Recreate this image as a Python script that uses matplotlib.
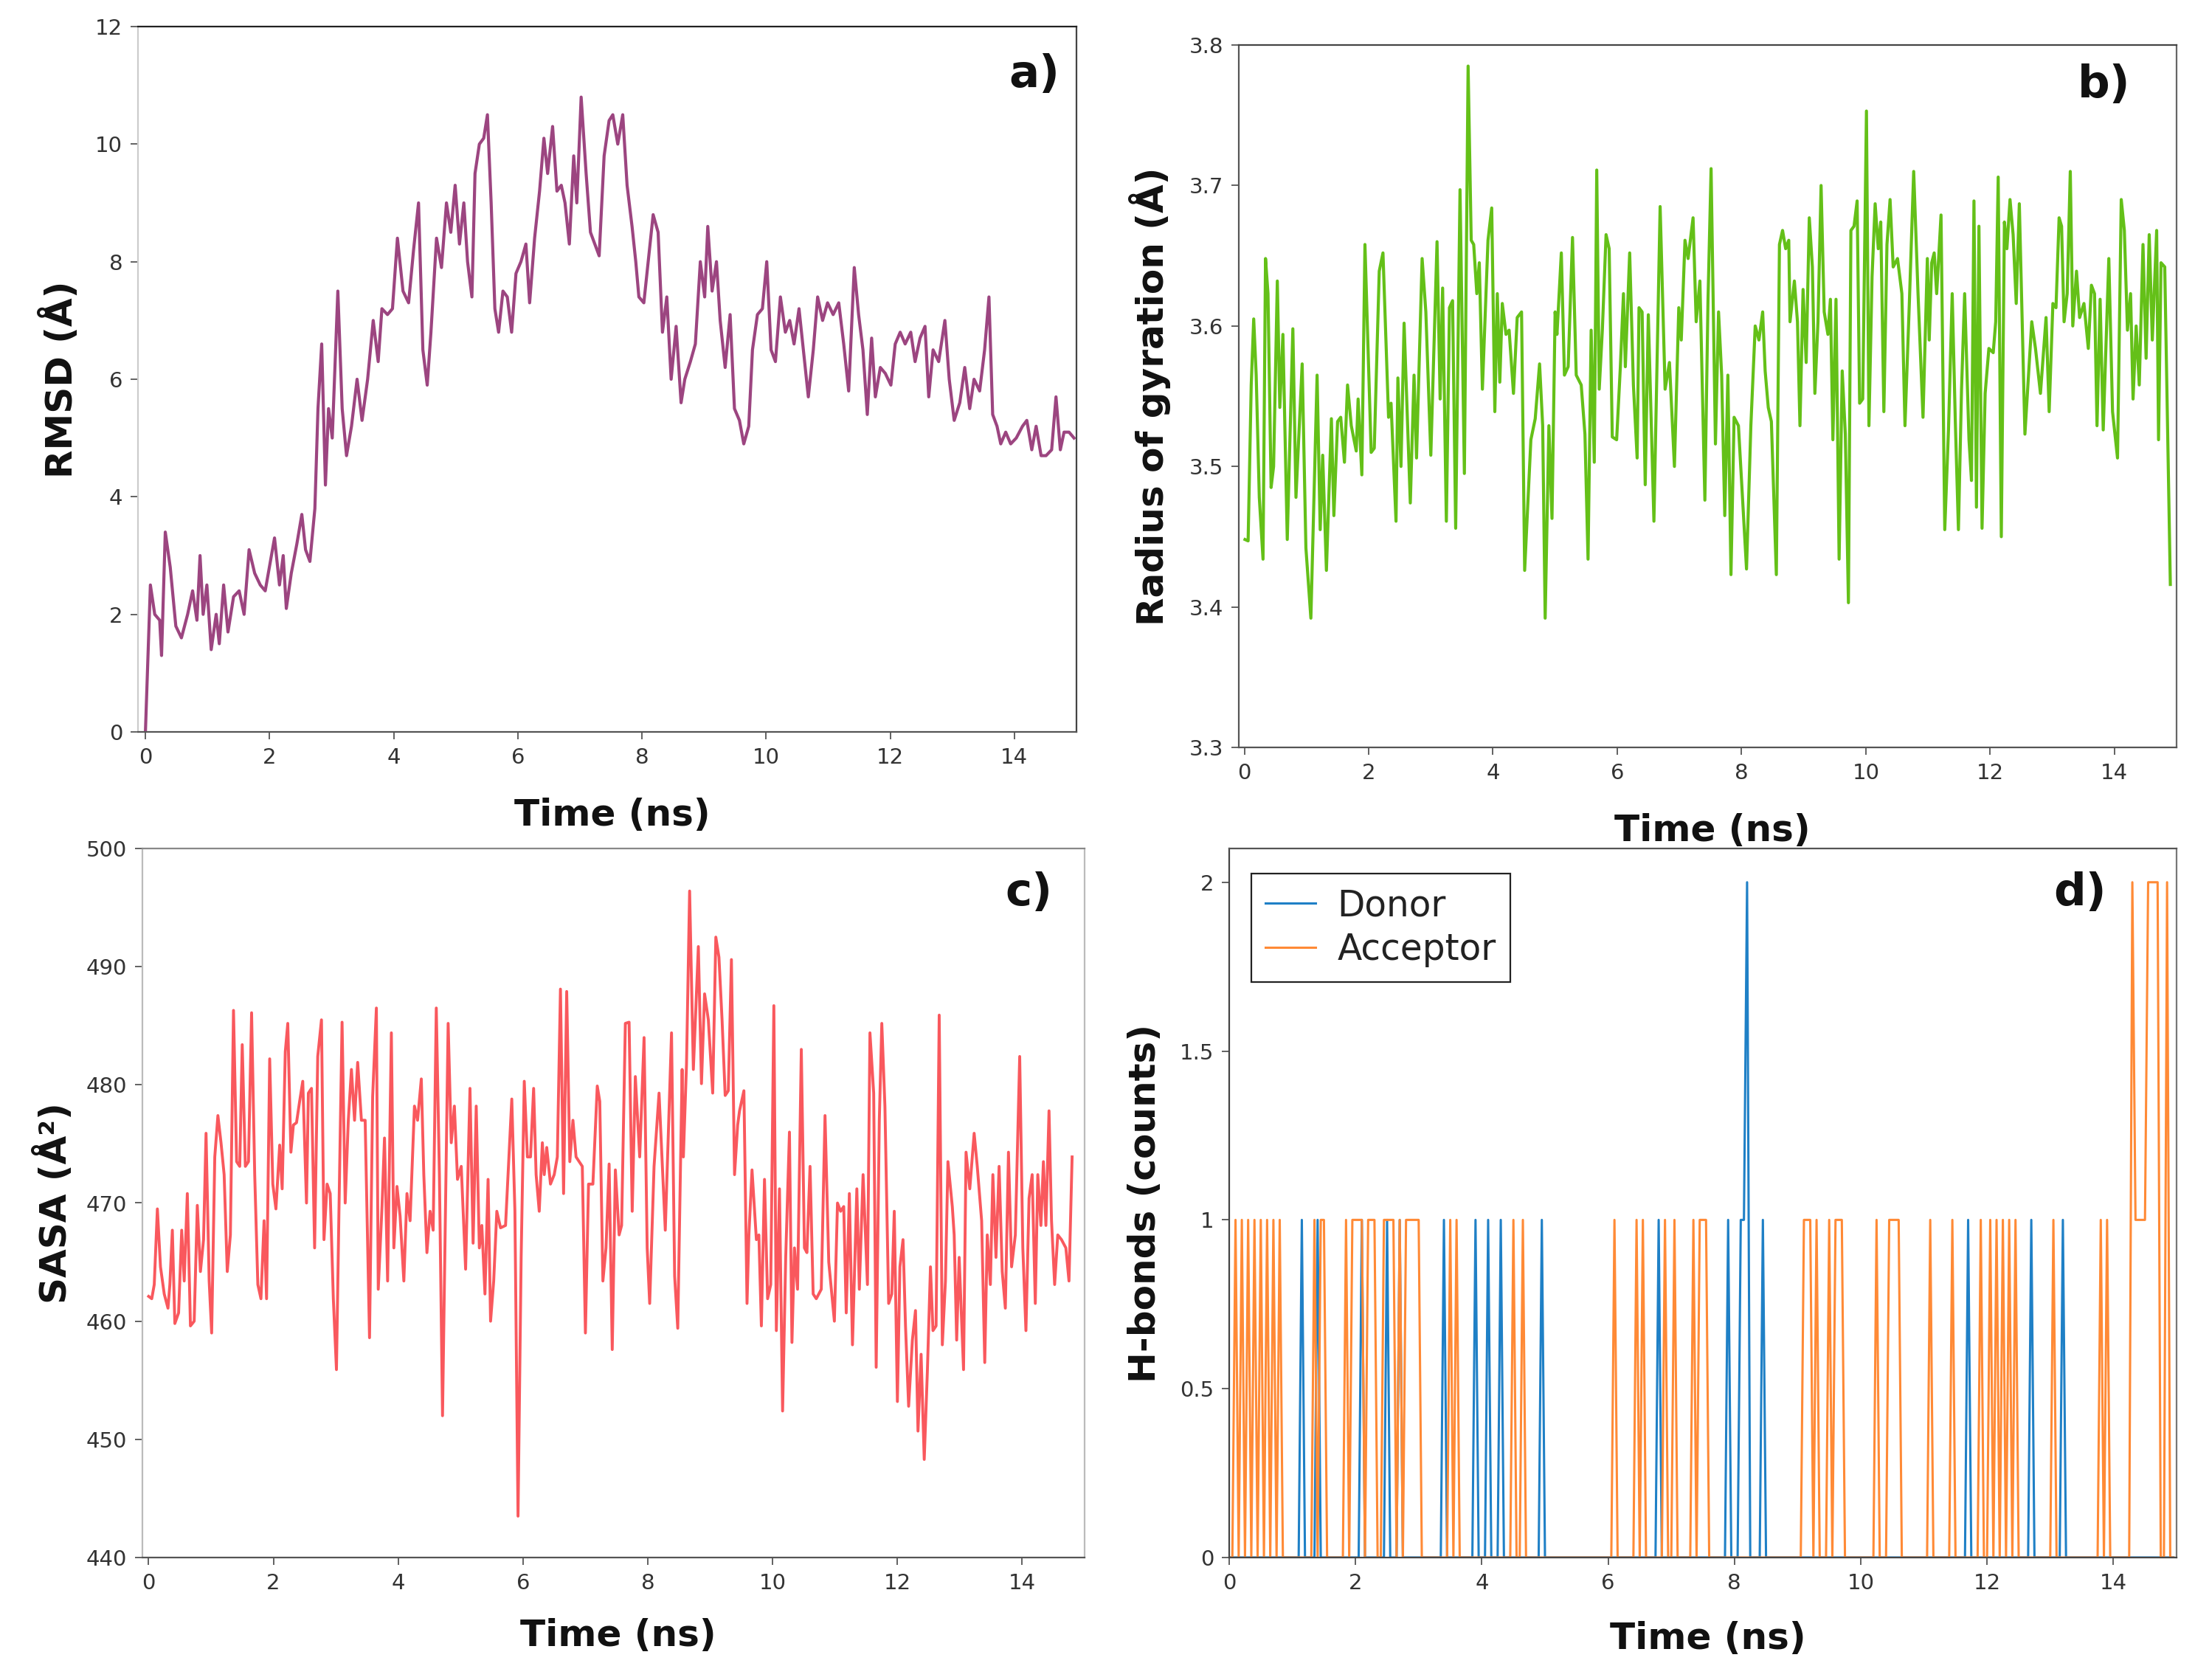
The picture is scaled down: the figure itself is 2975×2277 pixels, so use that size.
import numpy as np
import matplotlib
matplotlib.use("Agg")
import matplotlib.pyplot as plt

# ---- data ----
rmsd_time = [0.00, 0.08, 0.15, 0.23, 0.26, 0.32, 0.40, 0.49, 0.58, 0.68, 0.76, 0.83, 0.88, 0.93, 0.99, 1.06, 1.14, 1.19, 1.26, 1.33,
             1.42, 1.51, 1.59, 1.67, 1.76, 1.85, 1.93, 2.08, 2.16, 2.22, 2.27, 2.35, 2.44, 2.52, 2.58, 2.65, 2.73, 2.78, 2.84, 2.90,
             2.95, 3.01, 3.10, 3.17, 3.24, 3.32, 3.41, 3.49, 3.58, 3.67, 3.75, 3.81, 3.90, 3.98, 4.06, 4.15, 4.24, 4.32, 4.40, 4.47,
             4.54, 4.60, 4.69, 4.77, 4.85, 4.92, 4.99, 5.06, 5.13, 5.19, 5.26, 5.31, 5.38, 5.45, 5.51, 5.57, 5.63, 5.69, 5.76, 5.83,
             5.90, 5.97, 6.05, 6.13, 6.19, 6.27, 6.35, 6.42, 6.48, 6.56, 6.63, 6.70, 6.76, 6.83, 6.90, 6.95, 7.02, 7.10, 7.17, 7.24,
             7.31, 7.39, 7.47, 7.53, 7.61, 7.69, 7.76, 7.84, 7.90, 7.95, 8.03, 8.10, 8.18, 8.26, 8.33, 8.40, 8.47, 8.55, 8.63, 8.69,
             8.78, 8.86, 8.94, 9.01, 9.06, 9.13, 9.20, 9.26, 9.34, 9.42, 9.49, 9.57, 9.64, 9.72, 9.78, 9.86, 9.94, 10.01, 10.08, 10.15,
             10.23, 10.31, 10.38, 10.45, 10.53, 10.60, 10.68, 10.76, 10.83, 10.91, 10.99, 11.08, 11.17, 11.25, 11.33, 11.42, 11.49, 11.56, 11.63, 11.70,
             11.76, 11.84, 11.92, 12.01, 12.08, 12.16, 12.24, 12.33, 12.40, 12.48, 12.56, 12.62, 12.69, 12.78, 12.88, 12.95, 13.03, 13.12, 13.20, 13.28,
             13.35, 13.44, 13.52, 13.59, 13.65, 13.72, 13.78, 13.86, 13.94, 14.03, 14.13, 14.20, 14.28, 14.35, 14.43, 14.51, 14.60, 14.67, 14.74, 14.80,
             14.88, 14.96]
rmsd = [0.0, 2.5, 2.0, 1.9, 1.3, 3.4, 2.8, 1.8, 1.6, 2.0, 2.4, 1.9, 3.0, 2.0, 2.5, 1.4, 2.0, 1.5, 2.5, 1.7,
        2.3, 2.4, 2.0, 3.1, 2.7, 2.5, 2.4, 3.3, 2.5, 3.0, 2.1, 2.7, 3.2, 3.7, 3.1, 2.9, 3.8, 5.5, 6.6, 4.2,
        5.5, 5.0, 7.5, 5.5, 4.7, 5.2, 6.0, 5.3, 6.0, 7.0, 6.3, 7.2, 7.1, 7.2, 8.4, 7.5, 7.3, 8.2, 9.0, 6.5,
        5.9, 6.8, 8.4, 7.9, 9.0, 8.5, 9.3, 8.3, 9.0, 8.0, 7.4, 9.5, 10.0, 10.1, 10.5, 9.0, 7.2, 6.8, 7.5, 7.4,
        6.8, 7.8, 8.0, 8.3, 7.3, 8.4, 9.2, 10.1, 9.5, 10.3, 9.2, 9.3, 9.0, 8.3, 9.8, 9.0, 10.8, 9.5, 8.5, 8.3,
        8.1, 9.8, 10.4, 10.5, 10.0, 10.5, 9.3, 8.6, 8.0, 7.4, 7.3, 8.0, 8.8, 8.5, 6.8, 7.4, 6.0, 6.9, 5.6, 6.0,
        6.3, 6.6, 8.0, 7.4, 8.6, 7.5, 8.0, 7.0, 6.2, 7.1, 5.5, 5.3, 4.9, 5.2, 6.5, 7.1, 7.2, 8.0, 6.5, 6.3,
        7.4, 6.8, 7.0, 6.6, 7.2, 6.5, 5.7, 6.5, 7.4, 7.0, 7.3, 7.1, 7.3, 6.6, 5.8, 7.9, 7.1, 6.5, 5.4, 6.7,
        5.7, 6.2, 6.1, 5.9, 6.6, 6.8, 6.6, 6.8, 6.3, 6.7, 6.9, 5.7, 6.5, 6.3, 7.0, 6.0, 5.3, 5.6, 6.2, 5.5,
        6.0, 5.8, 6.5, 7.4, 5.4, 5.2, 4.9, 5.1, 4.9, 5.0, 5.2, 5.3, 4.8, 5.2, 4.7, 4.7, 4.8, 5.7, 4.8, 5.1,
        5.1, 5.0]

rg_time = [0.01, 0.06, 0.11, 0.15, 0.19, 0.24, 0.30, 0.34, 0.38, 0.43, 0.47, 0.53, 0.57, 0.62, 0.69, 0.78, 0.83, 0.93, 0.99, 1.07,
           1.17, 1.22, 1.26, 1.32, 1.40, 1.44, 1.50, 1.55, 1.61, 1.66, 1.72, 1.80, 1.83, 1.89, 1.94, 2.04, 2.09, 2.17, 2.23, 2.32,
           2.36, 2.44, 2.47, 2.52, 2.57, 2.67, 2.73, 2.77, 2.86, 2.92, 3.00, 3.10, 3.15, 3.19, 3.25, 3.30, 3.35, 3.40, 3.47, 3.54,
           3.60, 3.65, 3.69, 3.74, 3.78, 3.83, 3.92, 3.98, 4.03, 4.07, 4.11, 4.15, 4.21, 4.26, 4.33, 4.39, 4.46, 4.51, 4.61, 4.68,
           4.75, 4.80, 4.84, 4.90, 4.95, 5.00, 5.03, 5.10, 5.15, 5.21, 5.28, 5.34, 5.42, 5.48, 5.53, 5.58, 5.63, 5.67, 5.71, 5.76,
           5.82, 5.87, 5.92, 5.99, 6.05, 6.10, 6.13, 6.20, 6.26, 6.32, 6.35, 6.40, 6.45, 6.50, 6.59, 6.69, 6.77, 6.84, 6.92, 6.99,
           7.03, 7.09, 7.14, 7.22, 7.27, 7.33, 7.41, 7.46, 7.51, 7.58, 7.63, 7.68, 7.73, 7.78, 7.83, 7.88, 7.95, 8.08, 8.15, 8.22,
           8.28, 8.34, 8.38, 8.43, 8.48, 8.56, 8.61, 8.66, 8.71, 8.76, 8.78, 8.85, 8.90, 8.94, 8.99, 9.04, 9.09, 9.14, 9.18, 9.23,
           9.28, 9.33, 9.39, 9.43, 9.47, 9.52, 9.57, 9.62, 9.67, 9.72, 9.76, 9.81, 9.86, 9.90, 9.95, 10.01, 10.05, 10.10, 10.15, 10.20,
           10.24, 10.29, 10.34, 10.39, 10.44, 10.51, 10.58, 10.63, 10.70, 10.77, 10.84, 10.87, 10.92, 10.99, 11.02, 11.06, 11.10, 11.14, 11.21, 11.27,
           11.33, 11.39, 11.44, 11.49, 11.54, 11.59, 11.66, 11.70, 11.74, 11.78, 11.82, 11.87, 11.92, 11.98, 12.05, 12.09, 12.13, 12.18, 12.23, 12.27,
           12.32, 12.37, 12.42, 12.47, 12.56, 12.67, 12.73, 12.81, 12.90, 12.95, 13.01, 13.06, 13.11, 13.15, 13.19, 13.24, 13.29, 13.33, 13.39, 13.44,
           13.51, 13.58, 13.63, 13.68, 13.72, 13.77, 13.82, 13.91, 13.97, 14.05, 14.11, 14.16, 14.21, 14.26, 14.30, 14.35, 14.40, 14.46, 14.51, 14.56,
           14.61, 14.68, 14.71, 14.75, 14.81, 14.90]
rg = [3.448, 3.447, 3.558, 3.605, 3.565, 3.478, 3.434, 3.648, 3.623, 3.485, 3.500, 3.632, 3.542, 3.594, 3.448, 3.598, 3.478, 3.573, 3.442, 3.392,
      3.565, 3.455, 3.508, 3.426, 3.534, 3.465, 3.532, 3.535, 3.503, 3.558, 3.529, 3.511, 3.548, 3.494, 3.658, 3.510, 3.513, 3.639, 3.652, 3.535,
      3.545, 3.461, 3.563, 3.500, 3.602, 3.474, 3.565, 3.506, 3.648, 3.610, 3.508, 3.660, 3.548, 3.627, 3.461, 3.613, 3.618, 3.456, 3.697, 3.495,
      3.785, 3.661, 3.658, 3.623, 3.645, 3.555, 3.661, 3.684, 3.539, 3.623, 3.560, 3.616, 3.594, 3.597, 3.552, 3.606, 3.610, 3.426, 3.519, 3.534,
      3.573, 3.529, 3.392, 3.529, 3.463, 3.610, 3.594, 3.652, 3.565, 3.571, 3.663, 3.565, 3.558, 3.523, 3.434, 3.597, 3.503, 3.711, 3.555, 3.597,
      3.665, 3.655, 3.521, 3.519, 3.571, 3.623, 3.571, 3.652, 3.558, 3.506, 3.613, 3.610, 3.487, 3.608, 3.461, 3.685, 3.555, 3.574, 3.500, 3.613,
      3.590, 3.661, 3.648, 3.677, 3.603, 3.632, 3.476, 3.618, 3.712, 3.516, 3.610, 3.565, 3.465, 3.565, 3.423, 3.535, 3.529, 3.427, 3.529, 3.600,
      3.590, 3.610, 3.568, 3.542, 3.532, 3.423, 3.658, 3.668, 3.655, 3.661, 3.603, 3.632, 3.603, 3.529, 3.626, 3.574, 3.677, 3.642, 3.552, 3.603,
      3.700, 3.610, 3.594, 3.619, 3.519, 3.619, 3.434, 3.568, 3.523, 3.403, 3.668, 3.671, 3.689, 3.545, 3.548, 3.753, 3.529, 3.635, 3.687, 3.655,
      3.674, 3.539, 3.658, 3.690, 3.642, 3.648, 3.623, 3.529, 3.616, 3.710, 3.623, 3.590, 3.535, 3.648, 3.590, 3.645, 3.652, 3.623, 3.679, 3.455,
      3.526, 3.623, 3.532, 3.455, 3.555, 3.623, 3.519, 3.490, 3.689, 3.471, 3.671, 3.456, 3.552, 3.584, 3.581, 3.603, 3.706, 3.450, 3.674, 3.655,
      3.690, 3.665, 3.616, 3.687, 3.523, 3.603, 3.584, 3.552, 3.606, 3.539, 3.616, 3.613, 3.677, 3.671, 3.603, 3.623, 3.710, 3.600, 3.639, 3.606,
      3.616, 3.584, 3.629, 3.623, 3.529, 3.619, 3.526, 3.648, 3.539, 3.506, 3.690, 3.668, 3.597, 3.623, 3.548, 3.600, 3.558, 3.658, 3.577, 3.665,
      3.590, 3.668, 3.519, 3.645, 3.642, 3.416]

sasa_time = [0.00, 0.05, 0.09, 0.14, 0.19, 0.25, 0.31, 0.34, 0.38, 0.42, 0.48, 0.53, 0.57, 0.62, 0.67, 0.73, 0.78, 0.83, 0.88, 0.92,
             0.97, 1.01, 1.06, 1.11, 1.16, 1.21, 1.26, 1.31, 1.36, 1.41, 1.46, 1.50, 1.55, 1.60, 1.65, 1.70, 1.75, 1.80, 1.85, 1.89,
             1.94, 1.99, 2.04, 2.10, 2.14, 2.19, 2.23, 2.28, 2.32, 2.37, 2.42, 2.47, 2.53, 2.56, 2.61, 2.66, 2.71, 2.77, 2.81, 2.86,
             2.91, 2.96, 3.01, 3.05, 3.10, 3.15, 3.20, 3.25, 3.30, 3.35, 3.41, 3.47, 3.54, 3.59, 3.65, 3.68, 3.74, 3.78, 3.83, 3.89,
             3.93, 3.98, 4.03, 4.09, 4.14, 4.19, 4.26, 4.31, 4.37, 4.41, 4.46, 4.51, 4.56, 4.61, 4.66, 4.71, 4.80, 4.85, 4.90, 4.95,
             5.01, 5.08, 5.15, 5.20, 5.25, 5.30, 5.34, 5.39, 5.44, 5.48, 5.53, 5.58, 5.64, 5.72, 5.82, 5.87, 5.92, 5.97, 6.02, 6.07,
             6.12, 6.17, 6.21, 6.26, 6.31, 6.34, 6.38, 6.44, 6.50, 6.55, 6.60, 6.65, 6.70, 6.75, 6.80, 6.85, 6.95, 7.00, 7.05, 7.12,
             7.19, 7.23, 7.28, 7.33, 7.38, 7.43, 7.48, 7.54, 7.58, 7.64, 7.70, 7.75, 7.80, 7.87, 7.94, 7.99, 8.03, 8.10, 8.18, 8.28,
             8.38, 8.43, 8.48, 8.55, 8.57, 8.62, 8.67, 8.73, 8.81, 8.86, 8.91, 8.97, 9.04, 9.09, 9.14, 9.19, 9.24, 9.29, 9.34, 9.39,
             9.44, 9.47, 9.54, 9.59, 9.62, 9.67, 9.74, 9.78, 9.82, 9.87, 9.92, 9.97, 10.02, 10.06, 10.11, 10.16, 10.21, 10.27, 10.31, 10.35,
             10.40, 10.46, 10.51, 10.55, 10.60, 10.65, 10.70, 10.78, 10.84, 10.90, 10.99, 11.04, 11.09, 11.14, 11.18, 11.23, 11.28, 11.35, 11.39, 11.45,
             11.52, 11.56, 11.62, 11.66, 11.71, 11.75, 11.80, 11.86, 11.91, 11.95, 12.00, 12.04, 12.09, 12.13, 12.18, 12.24, 12.29, 12.33, 12.38, 12.43,
             12.48, 12.53, 12.57, 12.62, 12.67, 12.72, 12.77, 12.81, 12.88, 12.91, 12.95, 12.99, 13.06, 13.10, 13.16, 13.23, 13.28, 13.35, 13.40, 13.44,
             13.49, 13.53, 13.58, 13.63, 13.68, 13.73, 13.78, 13.83, 13.89, 13.96, 14.01, 14.06, 14.11, 14.16, 14.21, 14.25, 14.30, 14.34, 14.38, 14.43,
             14.47, 14.52, 14.57, 14.63, 14.70, 14.75, 14.80]
sasa = [462.1, 461.9, 463.1, 469.5, 464.6, 462.3, 461.1, 463.1, 467.7, 459.8, 460.7, 467.7, 463.4, 470.8, 459.6, 460.0, 469.8, 464.2, 466.9, 475.9,
        463.4, 459.0, 473.9, 477.4, 475.1, 472.4, 464.2, 467.3, 486.3, 473.5, 473.1, 483.4, 473.1, 473.5, 486.1, 472.4, 463.1, 461.9, 468.5, 461.9,
        482.2, 471.6, 469.5, 474.9, 471.2, 482.8, 485.2, 474.3, 476.6, 476.8, 478.6, 480.3, 470.0, 479.3, 479.7, 466.2, 482.4, 485.5, 466.9, 471.6,
        470.8, 461.9, 455.9, 469.3, 485.3, 470.0, 477.0, 481.3, 477.0, 481.9, 477.0, 477.0, 458.6, 479.0, 486.5, 462.7, 469.7, 475.5, 463.4, 484.4,
        466.2, 471.4, 468.9, 463.4, 470.8, 468.5, 478.2, 477.0, 480.5, 472.4, 465.8, 469.3, 467.7, 486.5, 472.4, 452.0, 485.2, 475.1, 478.2, 472.0,
        473.1, 464.4, 479.7, 466.6, 478.2, 466.2, 468.1, 462.3, 472.0, 460.0, 463.4, 469.3, 467.9, 468.1, 478.8, 469.3, 443.5, 465.4, 480.3, 473.9,
        473.9, 479.7, 472.4, 469.3, 475.1, 472.4, 474.7, 471.6, 472.4, 473.9, 488.1, 470.8, 487.9, 473.5, 477.0, 473.9, 473.1, 459.0, 471.6, 471.6,
        479.9, 478.6, 463.4, 466.2, 473.3, 457.6, 472.8, 467.3, 468.1, 485.2, 485.3, 469.3, 480.7, 473.9, 484.0, 466.2, 461.5, 473.1, 479.3, 467.7,
        484.4, 463.8, 459.4, 481.3, 473.9, 481.7, 496.4, 481.3, 491.7, 480.1, 487.7, 485.5, 479.3, 492.5, 490.8, 485.5, 479.1, 479.5, 490.6, 472.4,
        476.6, 477.8, 479.5, 461.5, 467.3, 472.8, 466.9, 467.3, 459.6, 472.0, 461.9, 463.1, 486.7, 459.2, 471.2, 452.4, 465.4, 476.0, 458.2, 466.2,
        462.7, 483.0, 466.2, 465.8, 473.1, 462.3, 461.9, 462.7, 477.4, 465.0, 460.0, 470.0, 469.3, 469.7, 460.7, 470.8, 458.0, 471.2, 462.7, 472.4,
        463.1, 484.4, 479.3, 456.1, 477.0, 485.2, 478.2, 461.5, 462.3, 469.3, 453.2, 464.6, 466.9, 459.6, 452.8, 458.4, 460.9, 450.7, 457.2, 448.3,
        455.7, 464.6, 459.2, 459.6, 485.9, 458.0, 463.4, 473.5, 469.7, 467.3, 458.4, 465.4, 455.9, 474.3, 471.2, 475.9, 473.1, 468.5, 456.5, 467.3,
        463.1, 472.4, 465.4, 473.1, 464.2, 461.1, 474.3, 464.6, 467.3, 482.4, 466.2, 459.2, 470.4, 472.4, 461.5, 472.4, 468.1, 473.5, 468.1, 477.8,
        468.5, 463.1, 467.3, 466.9, 466.2, 463.4, 473.9]

# H-bond counts: frames every 0.05 ns, zero except the listed (start, end, count) runs
hb_step = 0.05
hb_frames = 300
donor_runs = [(1.15, 1.15, 1), (1.40, 1.40, 1), (2.10, 2.10, 1), (2.50, 2.50, 1), (2.70, 2.70, 1),
              (3.40, 3.40, 1), (3.90, 3.90, 1), (4.10, 4.10, 1), (4.30, 4.30, 1), (4.95, 4.95, 1),
              (6.80, 6.80, 1), (7.90, 7.90, 1), (8.10, 8.15, 1), (8.20, 8.20, 2), (8.45, 8.45, 1),
              (11.70, 11.70, 1), (12.70, 12.70, 1), (13.20, 13.20, 1)]
acceptor_runs = [(0.10, 0.10, 1), (0.20, 0.20, 1), (0.30, 0.30, 1), (0.40, 0.40, 1), (0.50, 0.50, 1),
                 (0.60, 0.60, 1), (0.70, 0.70, 1), (0.80, 0.80, 1),
                 (1.35, 1.35, 1), (1.45, 1.50, 1), (1.85, 1.85, 1), (1.95, 2.10, 1), (2.20, 2.30, 1),
                 (2.45, 2.60, 1), (2.70, 2.70, 1), (2.80, 3.00, 1), (3.50, 3.50, 1), (3.60, 3.60, 1),
                 (4.50, 4.50, 1), (4.65, 4.65, 1), (6.10, 6.10, 1), (6.45, 6.45, 1), (6.55, 6.55, 1),
                 (6.90, 6.90, 1), (7.05, 7.05, 1), (7.35, 7.35, 1), (7.45, 7.55, 1),
                 (9.10, 9.20, 1), (9.30, 9.30, 1), (9.50, 9.50, 1), (9.60, 9.70, 1),
                 (10.25, 10.25, 1), (10.45, 10.60, 1), (11.10, 11.10, 1), (11.45, 11.45, 1),
                 (11.90, 11.90, 1), (12.05, 12.05, 1), (12.15, 12.15, 1), (12.25, 12.25, 1),
                 (12.35, 12.35, 1), (12.45, 12.45, 1), (13.05, 13.05, 1), (13.80, 13.80, 1),
                 (13.90, 13.90, 1), (14.30, 14.30, 2), (14.35, 14.50, 1), (14.55, 14.70, 2),
                 (14.85, 14.85, 2)]

time_ticks = [0, 2, 4, 6, 8, 10, 12, 14]
rmsd_ticks = [0, 2, 4, 6, 8, 10, 12]
rg_ticks = [3.3, 3.4, 3.5, 3.6, 3.7, 3.8]
sasa_ticks = [440, 450, 460, 470, 480, 490, 500]
hb_ticks = [0, 0.5, 1, 1.5, 2]
hb_tick_labels = ["0", "0.5", "1", "1.5", "2"]


def runs_to_series(runs):
    series = np.zeros(hb_frames)
    for start, end, count in runs:
        i0 = int(round(start / hb_step))
        i1 = int(round(end / hb_step))
        series[i0:i1 + 1] = count
    return series


def style_axes(ax, spine_colors):
    for side, col in spine_colors.items():
        ax.spines[side].set_color(col)
        ax.spines[side].set_linewidth(1.6)
    ax.tick_params(direction="out", length=7, width=1.3, color="#555555",
                   labelsize=21, labelcolor="#333333", pad=8)
    ax.set_xticks(time_ticks)


W, H = 2975, 2277
fig = plt.figure(figsize=(W / 100, H / 100), dpi=100)


def box(left, top, right, bottom):
    return [left / W, 1 - bottom / H, (right - left) / W, (bottom - top) / H]


label_kw = dict(fontsize=36, fontweight="bold", color="#111111")
panel_kw = dict(fontsize=44, fontweight="bold", color="#111111", ha="right", va="top")

# a) RMSD
ax_a = fig.add_axes(box(187, 36, 1459, 992))
ax_a.plot(rmsd_time, rmsd, color="#9c4580", lw=3.0)
ax_a.set_xlim(-0.12, 15.0)
ax_a.set_ylim(0, 12)
ax_a.set_yticks(rmsd_ticks)
style_axes(ax_a, {"left": "#cccccc", "bottom": "#555555", "top": "#222222", "right": "#444444"})
ax_a.set_xlabel("Time (ns)", **label_kw)
ax_a.set_ylabel("RMSD (Å)", **label_kw)
ax_a.xaxis.set_label_coords(0.505, -0.093)
ax_a.yaxis.set_label_coords(-0.062, 0.5)
ax_a.text(0.982, 0.962, "a)", transform=ax_a.transAxes, **panel_kw)

# b) Radius of gyration
ax_b = fig.add_axes(box(1679, 61, 2950, 1013))
ax_b.plot(rg_time, rg, color="#64c018", lw=3.0)
ax_b.set_xlim(-0.09, 15.0)
ax_b.set_ylim(3.3, 3.8)
ax_b.set_yticks(rg_ticks)
ax_b.set_yticklabels([f"{v:.1f}" for v in rg_ticks])
style_axes(ax_b, {"left": "#555555", "bottom": "#555555", "top": "#444444", "right": "#666666"})
ax_b.set_xlabel("Time (ns)", **label_kw)
ax_b.set_ylabel("Radius of gyration (Å)", **label_kw)
ax_b.xaxis.set_label_coords(0.505, -0.093)
ax_b.yaxis.set_label_coords(-0.072, 0.5)
ax_b.text(0.951, 0.974, "b)", transform=ax_b.transAxes, **panel_kw)

# c) SASA
ax_c = fig.add_axes(box(193, 1150, 1470, 2111))
ax_c.plot(sasa_time, sasa, color="#f9585d", lw=2.8)
ax_c.set_xlim(-0.1, 15.0)
ax_c.set_ylim(440, 500)
ax_c.set_yticks(sasa_ticks)
style_axes(ax_c, {"left": "#bbbbbb", "bottom": "#555555", "top": "#888888", "right": "#bbbbbb"})
ax_c.set_xlabel("Time (ns)", **label_kw)
ax_c.set_ylabel("SASA (Å²)", **label_kw)
ax_c.xaxis.set_label_coords(0.505, -0.085)
ax_c.yaxis.set_label_coords(-0.073, 0.5)
ax_c.text(0.966, 0.968, "c)", transform=ax_c.transAxes, **panel_kw)

# d) H-bonds
hb_time = np.arange(hb_frames) * hb_step
donor = runs_to_series(donor_runs)
acceptor = runs_to_series(acceptor_runs)
ax_d = fig.add_axes(box(1666, 1150, 2950, 2111))
ax_d.plot(hb_time, donor, color="#1f80c6", lw=2.2, label="Donor")
ax_d.plot(hb_time, acceptor, color="#ff8a36", lw=2.2, label="Acceptor")
ax_d.set_xlim(0, 15.0)
ax_d.set_ylim(0, 2.1)
ax_d.set_yticks(hb_ticks)
ax_d.set_yticklabels(hb_tick_labels)
style_axes(ax_d, {"left": "#444444", "bottom": "#444444", "top": "#555555", "right": "#777777"})
ax_d.set_xlabel("Time (ns)", **label_kw)
ax_d.set_ylabel("H-bonds (counts)", **label_kw)
ax_d.xaxis.set_label_coords(0.505, -0.09)
ax_d.yaxis.set_label_coords(-0.07, 0.5)
ax_d.text(0.926, 0.968, "d)", transform=ax_d.transAxes, **panel_kw)
leg = ax_d.legend(loc="upper left", bbox_to_anchor=(0.023, 0.965), borderaxespad=0,
                  fontsize=35, frameon=True, fancybox=False, framealpha=1,
                  handlelength=1.4, handletextpad=0.6, borderpad=0.4, labelspacing=0.25)
leg.get_frame().set_edgecolor("#222222")
leg.get_frame().set_linewidth(1.6)
for t in leg.get_texts():
    t.set_color("#222222")

fig.savefig("out.png", dpi=100, facecolor="white")
